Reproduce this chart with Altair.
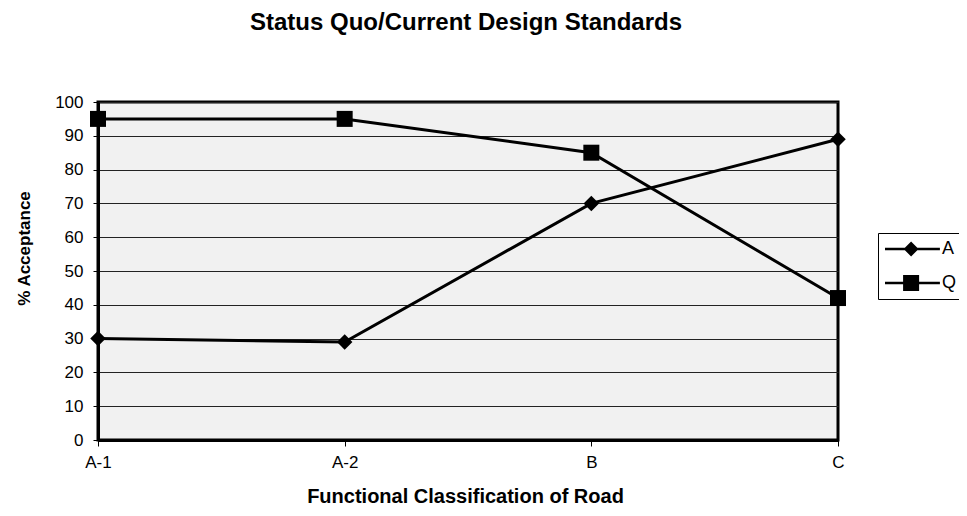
import altair as alt
import pandas as pd

categories = ["A-1", "A-2", "B", "C"]
series_names = ["A", "Q"]
series_a = [30, 29, 70, 89]
series_q = [95, 95, 85, 42]
y_ticks = list(range(0, 101, 10))

rows = []
for name, vals in zip(series_names, [series_a, series_q]):
    for c, v in zip(categories, vals):
        rows.append({"cls": c, "series": name, "pct": v})
df = pd.DataFrame(rows)

FONT = "Liberation Sans"

# legend symbols: a thin bar (the line) with a diamond / a square on it
path_a = "M-1,-0.15L5.1,-0.15L5.1,0.15L-1,0.15Z M1.9,-0.83L2.73,0L1.9,0.83L1.07,0Z"
path_q = "M-1,-0.15L5.1,-0.15L5.1,0.15L-1,0.15Z M1.01,-0.89L2.79,-0.89L2.79,0.89L1.01,0.89Z"

x_enc = alt.X(
    "cls:N",
    sort=categories,
    scale=alt.Scale(type="point", padding=0),
    axis=alt.Axis(
        title="Functional Classification of Road",
        titleFont=FONT, titleFontSize=20, titleFontWeight="bold", titleColor="black",
        titleX=367, titleY=62, titleAlign="center", titleBaseline="alphabetic",
        labelAngle=0, labelFont=FONT, labelFontSize=17, labelColor="black",
        labelPadding=8, tickSize=6, tickColor="black", tickWidth=1,
        domainColor="black", domainWidth=3, grid=False,
    ),
)
y_enc = alt.Y(
    "pct:Q",
    scale=alt.Scale(domain=[0, 100], nice=False),
    axis=alt.Axis(
        values=y_ticks,
        title="% Acceptance",
        titleFont=FONT, titleFontSize=17, titleFontWeight="bold", titleColor="black",
        titleX=-69, titleY=146, titleAlign="center", titleBaseline="alphabetic", titleAngle=270,
        labelFont=FONT, labelFontSize=17, labelColor="black", labelPadding=10,
        tickSize=5, tickColor="black", tickWidth=1,
        domainColor="black", domainWidth=3,
        grid=True, gridColor="#222222", gridWidth=1,
    ),
)

base = alt.Chart(df).encode(x=x_enc, y=y_enc)

lines = base.mark_line(color="black", strokeWidth=3).encode(detail="series:N")

points_a = base.transform_filter(alt.datum.series == "A").mark_point(
    filled=True, color="black", opacity=1, size=240, shape="diamond"
)
points_q = base.transform_filter(alt.datum.series == "Q").mark_point(
    filled=True, color="black", opacity=1, size=256, shape="square"
)

legend_layer = base.mark_point(filled=True, color="black", opacity=0).encode(
    shape=alt.Shape(
        "series:N",
        scale=alt.Scale(domain=series_names, range=[path_a, path_q]),
        legend=alt.Legend(
            title=None,
            orient="none",
            legendX=780,
            legendY=131,
            strokeColor="black",
            fillColor="white",
            padding=7,
            rowPadding=16,
            symbolSize=324,
            symbolStrokeWidth=0,
            symbolFillColor="black",
            symbolOpacity=1,
            labelFont=FONT,
            labelFontSize=18,
            labelColor="black",
            labelOffset=39,
        ),
    )
)

chart = (
    alt.layer(lines, points_a, points_q, legend_layer)
    .properties(
        width=740,
        height=338,
        autosize="none",
        padding={"left": 90, "top": 94, "right": 121, "bottom": 68},
        title=alt.TitleParams(
            text="Status Quo/Current Design Standards",
            font=FONT, fontSize=24, fontWeight="bold", color="black",
            anchor="middle", frame="group", offset=39, baseline="alphabetic", dx=-2,
        ),
        background="white",
    )
    .configure_view(fill="#f1f1f1", stroke="black", strokeWidth=3)
)

chart.save("out.html", embed_options={"renderer": "svg", "actions": False})
